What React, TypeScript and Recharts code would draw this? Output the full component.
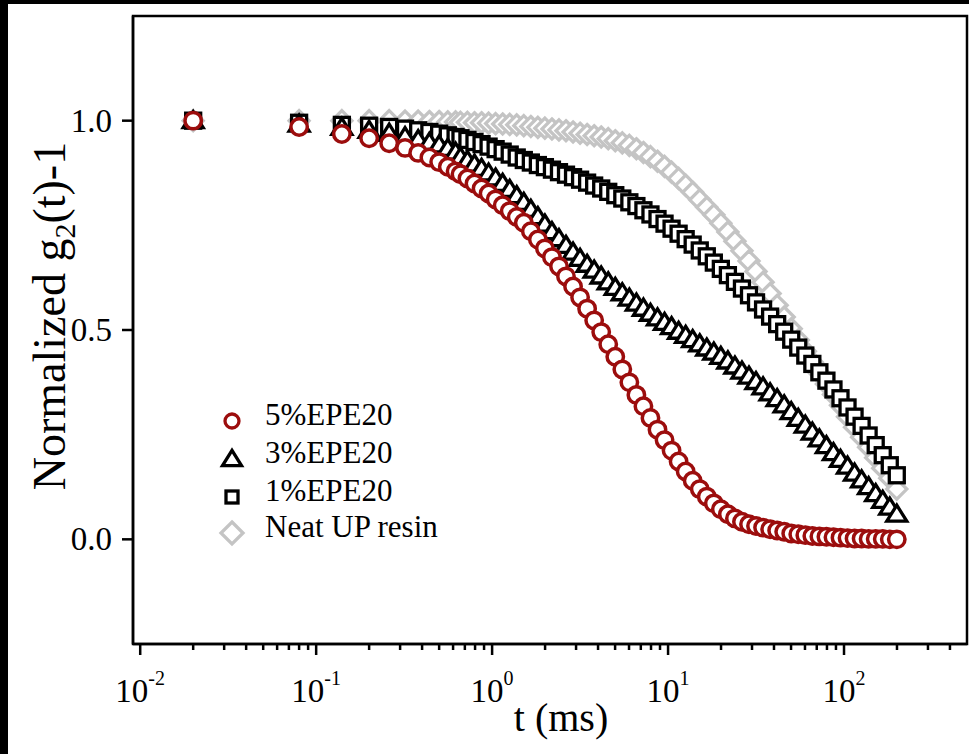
import React from 'react';
import { ScatterChart, Scatter, XAxis, YAxis, ReferenceArea } from 'recharts';

// delay times (ms)
const TIME = [
  0.02, 0.08, 0.14, 0.2, 0.26, 0.32, 0.38, 0.44, 0.5, 0.56, 0.62,
  0.661, 0.724, 0.794, 0.871, 0.955,
  1.047, 1.148, 1.259, 1.38, 1.514, 1.66, 1.82, 1.995, 2.188, 2.399, 2.63, 2.884, 3.162,
  3.467, 3.802, 4.169, 4.571, 5.012, 5.495, 6.026, 6.607, 7.244, 7.943, 8.71, 9.55,
  10.47, 11.48, 12.59, 13.8, 15.14, 16.6, 18.2, 19.95, 21.88, 23.99, 26.3, 28.84, 31.62,
  34.67, 38.02, 41.69, 45.71, 50.12, 54.95, 60.26, 66.07, 72.44, 79.43, 87.1, 95.5,
  104.7, 114.8, 125.9, 138, 151.4, 166, 182, 199.5,
];

const EPE5 = [
  1.0, 0.985, 0.968, 0.958, 0.946, 0.935, 0.923, 0.912, 0.901, 0.89, 0.879,
  0.872, 0.862, 0.85, 0.838, 0.826,
  0.812, 0.798, 0.784, 0.77, 0.756, 0.736, 0.716, 0.695, 0.674, 0.652, 0.628, 0.604, 0.578,
  0.551, 0.523, 0.495, 0.466, 0.436, 0.406, 0.375, 0.345, 0.318, 0.29, 0.262, 0.237,
  0.212, 0.186, 0.162, 0.14, 0.12, 0.102, 0.086, 0.072, 0.06, 0.05, 0.042, 0.036, 0.032,
  0.028, 0.024, 0.021, 0.018, 0.014, 0.012, 0.01, 0.008, 0.007, 0.006, 0.005, 0.004,
  0.003, 0.002, 0.002, 0.001, 0.001, 0.001, 0, 0,
];

const EPE3 = [
  1.0, 0.992, 0.984, 0.977, 0.97, 0.962, 0.955, 0.948, 0.942, 0.934, 0.925,
  0.913, 0.905, 0.896, 0.886, 0.875,
  0.863, 0.85, 0.836, 0.821, 0.805, 0.788, 0.771, 0.753, 0.735, 0.718, 0.702, 0.686, 0.671,
  0.657, 0.643, 0.629, 0.615, 0.602, 0.589, 0.576, 0.564, 0.552, 0.54, 0.529, 0.518,
  0.508, 0.497, 0.487, 0.477, 0.467, 0.457, 0.447, 0.437, 0.426, 0.414, 0.402, 0.39, 0.377,
  0.364, 0.35, 0.336, 0.321, 0.305, 0.289, 0.273, 0.256, 0.24, 0.224, 0.207, 0.191,
  0.175, 0.158, 0.142, 0.126, 0.109, 0.093, 0.077, 0.06,
];

const EPE1 = [
  1.0, 0.995, 0.99, 0.988, 0.985, 0.981, 0.977, 0.973, 0.969, 0.965, 0.961,
  0.958, 0.954, 0.949, 0.944, 0.938,
  0.932, 0.926, 0.919, 0.912, 0.906, 0.9, 0.894, 0.889, 0.883, 0.877, 0.871, 0.865, 0.859,
  0.852, 0.845, 0.838, 0.83, 0.822, 0.814, 0.805, 0.796, 0.786, 0.776, 0.765, 0.754,
  0.742, 0.73, 0.717, 0.704, 0.69, 0.676, 0.661, 0.646, 0.631, 0.615, 0.599, 0.583, 0.566,
  0.549, 0.532, 0.514, 0.496, 0.477, 0.458, 0.439, 0.419, 0.399, 0.379, 0.358, 0.337,
  0.315, 0.293, 0.271, 0.248, 0.225, 0.201, 0.177, 0.153,
];

const NEAT = [
  1.0, 1.0, 1.0, 1.0, 1.0, 0.999, 0.999, 0.998, 0.998, 0.997, 0.997,
  0.996, 0.996, 0.995, 0.995, 0.994,
  0.993, 0.992, 0.991, 0.99, 0.988, 0.986, 0.984, 0.982, 0.98, 0.978, 0.976, 0.973, 0.97,
  0.967, 0.964, 0.961, 0.957, 0.952, 0.947, 0.941, 0.933, 0.924, 0.914, 0.903, 0.891,
  0.877, 0.862, 0.846, 0.829, 0.811, 0.793, 0.775, 0.755, 0.734, 0.712, 0.689, 0.665, 0.64,
  0.614, 0.587, 0.559, 0.531, 0.503, 0.476, 0.449, 0.423, 0.397, 0.371, 0.346, 0.32,
  0.293, 0.268, 0.244, 0.22, 0.195, 0.17, 0.146, 0.12,
];

const LEGEND = ['5%EPE20', '3%EPE20', '1%EPE20', 'Neat UP resin'];
const X_TICKS = [
  0.01, 0.02, 0.03, 0.04, 0.05, 0.06, 0.07, 0.08, 0.09,
  0.1, 0.2, 0.3, 0.4, 0.5, 0.6, 0.7, 0.8, 0.9,
  1, 2, 3, 4, 5, 6, 7, 8, 9,
  10, 20, 30, 40, 50, 60, 70, 80, 90,
  100, 200, 300, 400,
];
const Y_TICKS = [0, 0.5, 1.0];

const RED = '#9c0d0d';
const GREY = '#c4c4c4';
const FONT = '"Liberation Serif", "Times New Roman", serif';

const toPoints = (vals: number[]) => TIME.map((t, i) => ({ t, v: vals[i] }));

const CircleMark = ({ cx, cy, r = 8.2, w = 3.5 }: any) => (
  <circle cx={cx} cy={cy} r={r} fill="#fff" stroke={RED} strokeWidth={w} />
);
const TriMark = ({ cx, cy, s = 1 }: any) => (
  <polygon
    points={`${cx},${cy - 9 * s} ${cx - 10 * s},${cy + 7 * s} ${cx + 10 * s},${cy + 7 * s}`}
    fill="#fff" stroke="#000" strokeWidth={3.3}
  />
);
const SquareMark = ({ cx, cy, h = 7.5 }: any) => (
  <rect x={cx - h} y={cy - h} width={2 * h} height={2 * h} fill="#fff" stroke="#000" strokeWidth={3.3} />
);
const DiamondMark = ({ cx, cy, d = 10 }: any) => (
  <polygon
    points={`${cx},${cy - d} ${cx + d},${cy} ${cx},${cy + d} ${cx - d},${cy}`}
    fill="#fff" stroke={GREY} strokeWidth={3.3}
  />
);

const XTick = ({ x, y, payload }: any) => {
  const lg = Math.log10(payload.value);
  const e = Math.round(lg);
  const major = Math.abs(lg - e) < 1e-6;
  return (
    <g>
      <line x1={x} x2={x} y1={y} y2={y + (major ? 11 : 6)} stroke="#000" strokeWidth={2.5} />
      {major && (
        <text x={x} y={y + 58} textAnchor="middle" fontFamily={FONT} fontSize={33} fill="#000">
          10<tspan dy={-17} fontSize={20}>{e}</tspan>
        </text>
      )}
    </g>
  );
};

const YTick = ({ x, y, payload }: any) => (
  <g>
    <line x1={x} x2={x - 11} y1={y} y2={y} stroke="#000" strokeWidth={2.5} />
    <text x={x - 21} y={y + 11} textAnchor="end" fontFamily={FONT} fontSize={33} fill="#000">
      {payload.value.toFixed(1)}
    </text>
  </g>
);

const App: React.FC = () => {
  const markers = [
    (cx: number, cy: number) => <CircleMark cx={cx} cy={cy} r={7} w={3.3} />,
    (cx: number, cy: number) => <TriMark cx={cx} cy={cy} s={0.95} />,
    (cx: number, cy: number) => <SquareMark cx={cx} cy={cy} h={6} />,
    (cx: number, cy: number) => <DiamondMark cx={cx} cy={cy} d={11} />,
  ];
  const rowY = [421, 459, 497, 533];

  return (
    <div style={{ position: 'absolute', left: 0, top: 0, width: 969, height: 754, background: '#000' }}>
      <div style={{ position: 'absolute', left: 8, top: 4, width: 961, height: 750, background: '#fff' }} />
      <div style={{ position: 'absolute', left: 0, top: 0 }}>
        <ScatterChart width={969} height={754} margin={{ top: 16, right: 2, bottom: 0, left: 0 }}>
          <XAxis
            type="number" dataKey="t" scale="log" domain={[0.0091, 500]} allowDataOverflow
            ticks={X_TICKS} interval={0} tick={<XTick />} tickLine={false} tickSize={0} tickMargin={0}
            axisLine={{ stroke: '#000', strokeWidth: 2.5 }} height={110}
          />
          <YAxis
            type="number" dataKey="v" domain={[-0.25, 1.25]} allowDataOverflow
            ticks={Y_TICKS} interval={0} tick={<YTick />} tickLine={false} tickSize={0} tickMargin={0}
            axisLine={{ stroke: '#000', strokeWidth: 2.5 }} width={133}
          />
          <ReferenceArea
            x1={0.0091} x2={500} y1={-0.25} y2={1.25}
            fill="none" stroke="#000" strokeWidth={2.5} ifOverflow="visible"
          />
          <Scatter data={toPoints(NEAT)} shape={(p: any) => <DiamondMark cx={p.cx} cy={p.cy} />} isAnimationActive={false} />
          <Scatter data={toPoints(EPE1)} shape={(p: any) => <SquareMark cx={p.cx} cy={p.cy} />} isAnimationActive={false} />
          <Scatter data={toPoints(EPE3)} shape={(p: any) => <TriMark cx={p.cx} cy={p.cy} />} isAnimationActive={false} />
          <Scatter data={toPoints(EPE5)} shape={(p: any) => <CircleMark cx={p.cx} cy={p.cy} />} isAnimationActive={false} />
        </ScatterChart>
      </div>

      {/* legend */}
      <svg style={{ position: 'absolute', left: 0, top: 0 }} width={969} height={754} pointerEvents="none">
        {LEGEND.map((name, i) => (
          <g key={name}>
            {markers[i](232, rowY[i])}
            <text x={265} y={rowY[i] + 4} fontFamily={FONT} fontSize={31} fill="#000">{name}</text>
          </g>
        ))}
      </svg>

      {/* axis titles */}
      <div
        style={{
          position: 'absolute', left: 50, top: 316, transform: 'translate(-50%, -50%) rotate(-90deg)',
          whiteSpace: 'nowrap', fontFamily: FONT, fontSize: 46, lineHeight: 1, color: '#000',
        }}
      >
        Normalized g<span style={{ fontSize: 30, position: 'relative', top: 10 }}>2</span>(t)-1
      </div>
      <div
        style={{
          position: 'absolute', left: 561, top: 718, transform: 'translate(-50%, -50%)',
          whiteSpace: 'nowrap', fontFamily: FONT, fontSize: 40, lineHeight: 1, color: '#000',
        }}
      >
        t (ms)
      </div>
    </div>
  );
};

export default App;
